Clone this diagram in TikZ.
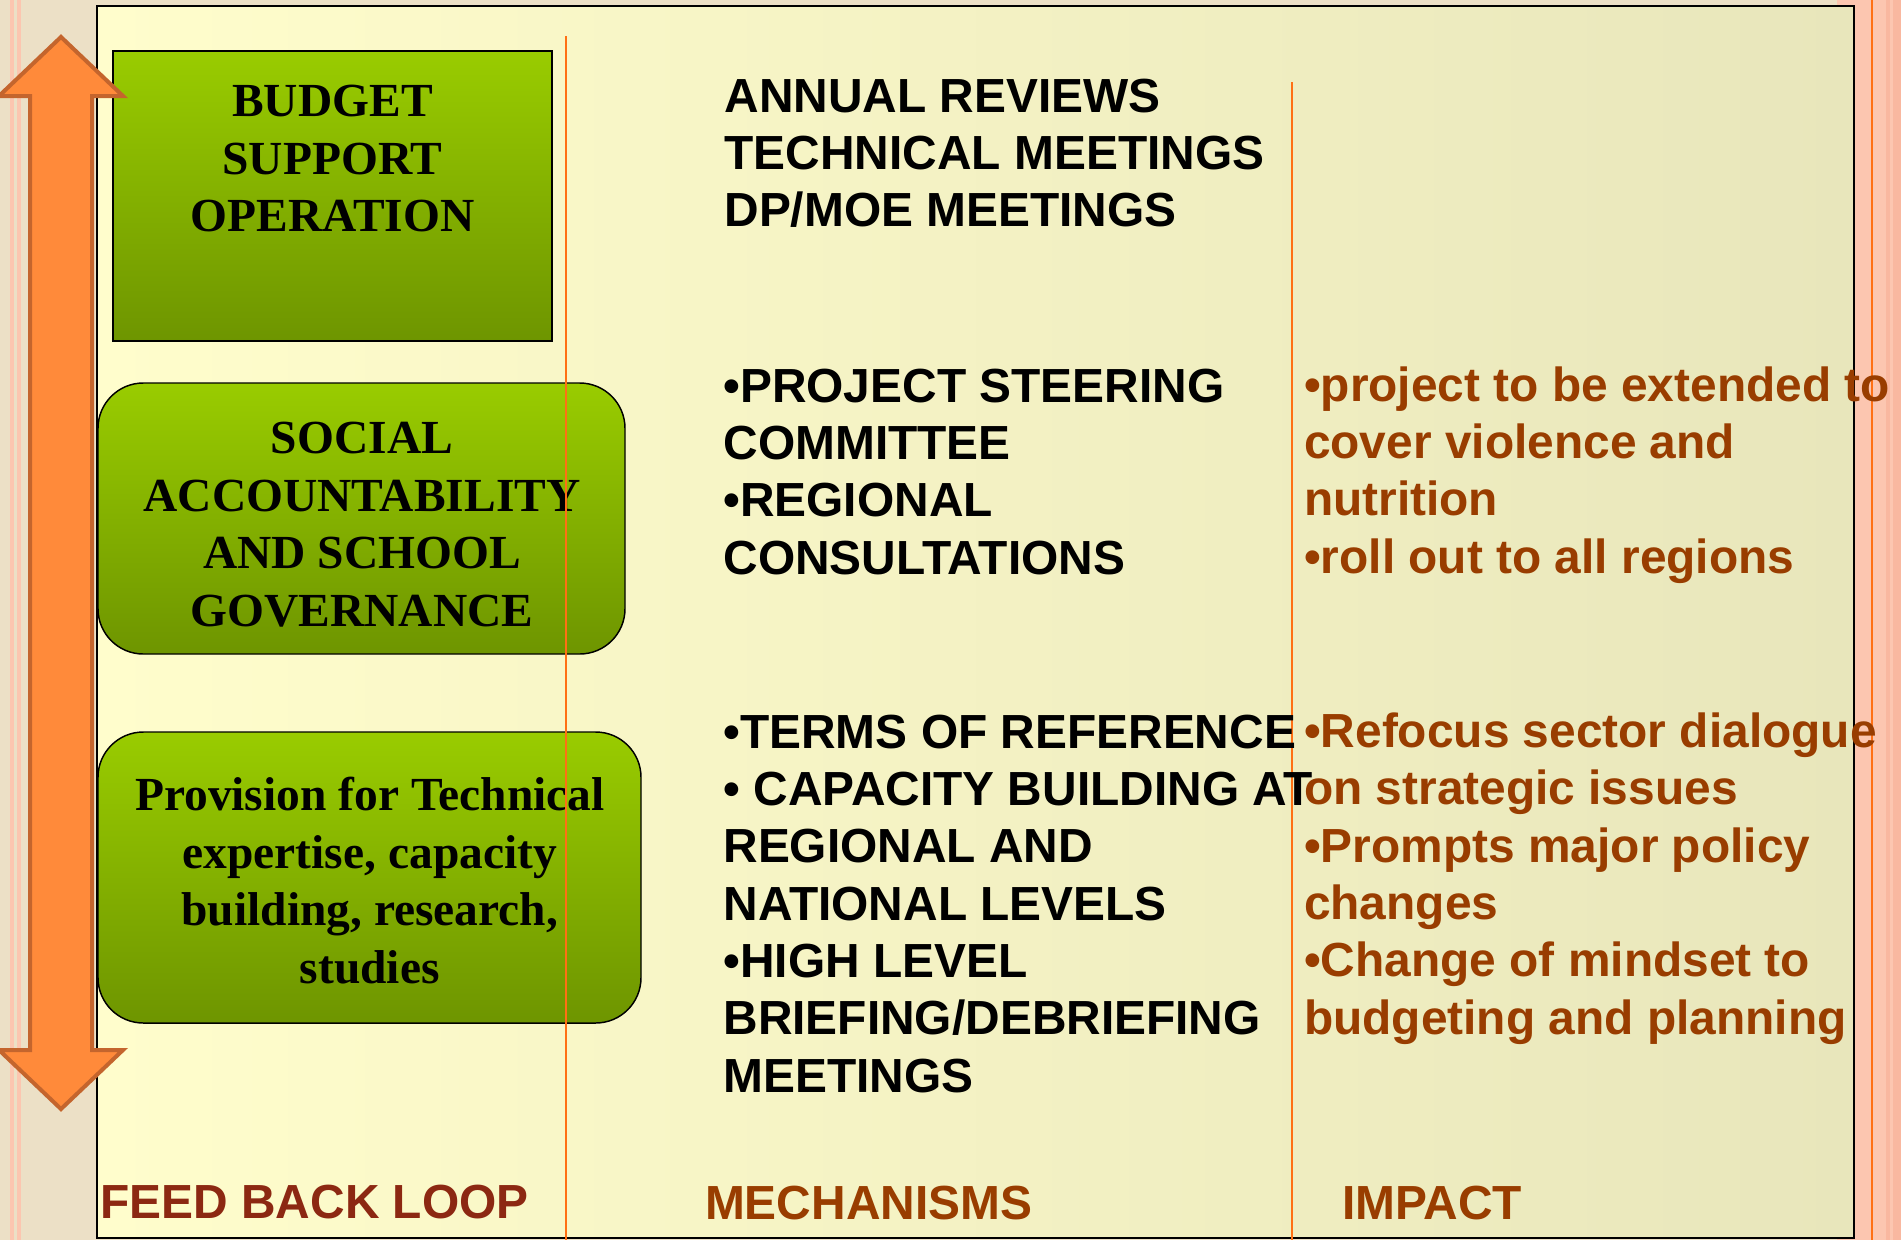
\documentclass[tikz,border=0pt]{standalone}
\usepackage{fontspec}
\setmainfont{Liberation Serif}
\newfontfamily\sansbody{Liberation Sans}

\definecolor{parchment}{RGB}{236,224,198}
\definecolor{salmon}{RGB}{252,198,176}
\definecolor{salmonline}{RGB}{249,184,160}
\definecolor{panelleft}{RGB}{255,253,204}
\definecolor{panelright}{RGB}{232,230,187}
\definecolor{divider}{RGB}{255,112,20}
\definecolor{greentop}{RGB}{153,204,0}
\definecolor{greenbottom}{RGB}{110,149,0}
\definecolor{arrowfill}{RGB}{255,138,58}
\definecolor{arrowedge}{RGB}{196,101,45}
\definecolor{impactbrown}{RGB}{153,61,0}
\definecolor{loopbrown}{RGB}{140,40,18}

\tikzset{every picture/.style={line width=0.75pt}}

\begin{document}
\begin{tikzpicture}[x=0.75pt,y=0.75pt,yscale=-1,xscale=1,
  greenbox/.style={draw=black, line width=1.1pt, top color=greentop, bottom color=greenbottom},
  divline/.style={draw=divider, line width=1.9pt},
  boxtext/.style={font=\fontsize{35.6}{43.1}\selectfont\bfseries, align=center, anchor=base, inner sep=0.75pt},
  mechtext/.style={font=\sansbody\fontsize{35.9}{43}\selectfont\bfseries, align=left, anchor=base west, inner sep=0.75pt},
  impacttext/.style={mechtext, text=impactbrown}]
\useasboundingbox (0,0) rectangle (1901,1240);

%Shape: Rectangle [id:dp5510372918406241] backdrop
\fill[parchment] (0,0) rectangle (1901,1240);
\fill[salmon] (1837,0) rectangle (1901,1240);
\fill[salmonline] (1886,0) rectangle (1890,1240);
\fill[salmonline] (1893,0) rectangle (1901,1240);
\fill[salmon] (9.5,0) rectangle (13.5,1240);
\fill[salmon] (16.5,0) rectangle (20.5,1240);
%Straight Lines [id:da7740311629548102]
\draw[divider, line width=1.5pt] (1872,0) -- (1872,1240);

%Shape: Rectangle [id:dp2918406245510373] panel
\draw[line width=1.5pt, left color=panelleft, right color=panelright] (97,6) rectangle (1854,1238);

%Straight Lines [id:da3161209775204837]
\draw[divline] (1292,82) -- (1292,1240);

%Shape: Rectangle [id:dp8127704316620915]
\draw[greenbox] (113,51) rectangle (552,341);
%Rounded Rect [id:dp0463120978115662]
\draw[greenbox, rounded corners=34pt] (98,383) rectangle (625,654);
%Rounded Rect [id:dp6629104583315270]
\draw[greenbox, rounded corners=34pt] (98,732) rectangle (641,1023);

% Text Node (base = last line)
\draw (332.5,231.7) node (budget) [boxtext] {BUDGET\\SUPPORT\\OPERATION};
% Text Node
\draw (362,626) node (social) [boxtext] {SOCIAL\\ACCOUNTABILITY\\AND SCHOOL\\GOVERNANCE};
% Text Node
\draw (369.8,983) node (provision) [boxtext] {Provision for Technical\\expertise, capacity\\building, research,\\studies};

% Text Node
\draw (723,226.7) node (reviews) [mechtext] {ANNUAL REVIEWS\\TECHNICAL MEETINGS\\DP/MOE MEETINGS};
% Text Node
\draw (722,574) node (steering) [mechtext] {•PROJECT STEERING\\COMMITTEE\\•REGIONAL\\CONSULTATIONS};
% Text Node
\draw (722,1092) node (terms) [mechtext] {•TERMS OF REFERENCE\\• CAPACITY BUILDING AT\\REGIONAL AND\\NATIONAL LEVELS\\•HIGH LEVEL\\BRIEFING/DEBRIEFING\\MEETINGS};

% Text Node
\draw (1302.6,573) node (extend) [impacttext] {•project to be extended to\\cover violence and\\nutrition\\•roll out to all regions};
% Text Node
\draw (1302.6,1034) node (refocus) [impacttext] {•Refocus sector dialogue\\on strategic issues\\•Prompts major policy\\changes\\•Change of mindset to\\budgeting and planning};

% Text Node
\draw (99,1218) node (loop) [mechtext, text=loopbrown] {FEED BACK LOOP};
% Text Node
\draw (703.6,1219) node (mechanisms) [impacttext] {MECHANISMS};
% Text Node
\draw (1340.6,1219) node (impact) [impacttext] {IMPACT};

%Straight Lines [id:da9055871432466713]
\draw[divline] (566,36) -- (566,1240);

%Shape: Up Down Arrow [id:dp4418090261735529]
\draw[line width=3pt, draw=arrowedge, fill=arrowfill, line join=miter] (61,37) -- (123,96) -- (92,96) -- (92,1050) -- (123,1050) -- (61,1109) -- (-1,1050) -- (30,1050) -- (30,96) -- (-1,96) -- cycle;

\end{tikzpicture}
\end{document}
